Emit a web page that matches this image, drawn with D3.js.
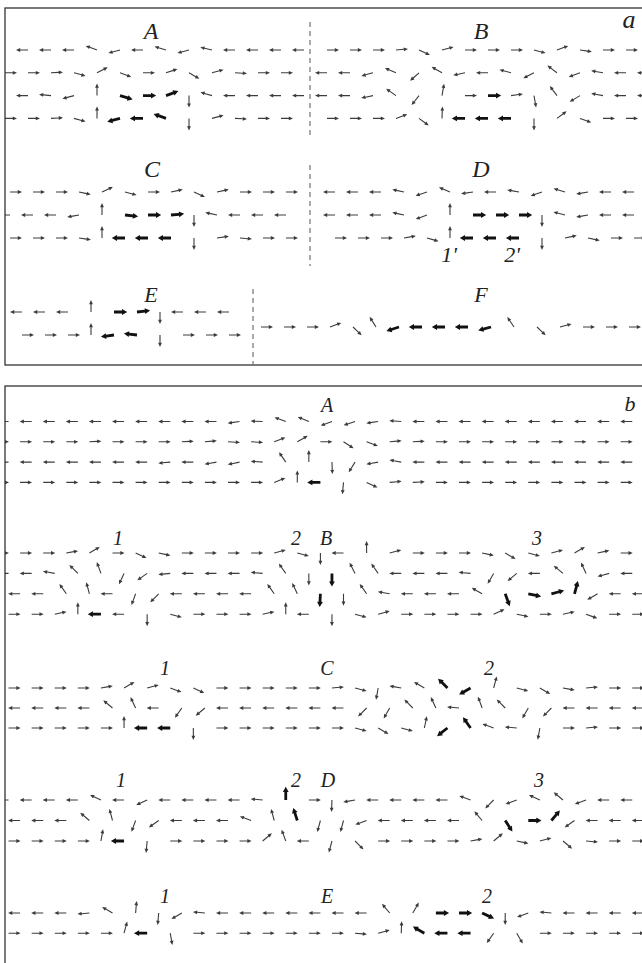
<!DOCTYPE html>
<html>
<head>
<meta charset="utf-8">
<script src="https://cdn.jsdelivr.net/npm/d3@7"></script>
<style>
  html, body { margin: 0; padding: 0; background: #fff; }
  svg { display: block; }
</style>
</head>
<body>
<svg id="chart" width="642" height="963"></svg>
<script>
// Spin rows. Each token is the arrow angle in degrees (0 = right, 90 = up);
// a trailing "b" marks a bold arrow, "." an empty site.

// (a) square lattice
const aRowsA = [
  "180 180 180 180 160 195 180 163 195 167 180 180 180 180",
  "0 0 3 -15 27 -20 0 18 -30 15 -3 0 0 .",
  "180 180 175 195 90 -17b 0b 20b -90 164 180 180 180 180",
  "0 0 3 -15 90 195b 180b 160b -90 15 -3 0 0 ."
];
const aRowsB = [
  "0 0 0 5 -25 15 0 0 0 -15 20 -8 0 0 .",
  "180 180 195 157 222 150 192 180 165 207 143 200 170 180 180",
  "180 180 192 145 232 80 0 0b 8 -80 127 211 170 180 180",
  "0 0 0 20 -36 88 180b 180b 180b -90 37 -20 0 0 ."
];
const aRowsC = [
  "0 0 0 -12 25 -15 0 12 -25 12 0 0 0",
  "180 180 180 190 90 -7b 0b 5b -90 168 180 180 180",
  "0 0 0 -8 90 180b 180b 180b -90 8 -5 0 0"
];
const aRowsD = [
  "180 180 180 168 198 157 188 180 170 199 163 190 180 180",
  "180 180 180 168 200 90 0b 0b 0b -90 165 190 180 180",
  "0 0 0 10 -16 90 180b 180b 180b -90 12 -12 0 0"
];
const aRowsE = [
  "180 180 180 90 0b 6b -90 180 180 180",
  "0 0 0 90 188b 174b -90 0 0 0"
];
const aRowsF = [
  "0 0 0 20 -44 122 198b 180b 180b 180b 195b 124 -44 15 0 0 0"
];

// (b) triangular lattice
const bRowsA = [
  "180 180 180 180 180 180 180 180 180 180 188 178 160 158 200 198 188 176 180 180 180 180 180 180 180 180 180 180",
  "0 0 0 0 3 0 0 0 3 5 -3 -3 21 30 0 -33 -20 5 3 0 0 0 0 0 0 0 0 0 0",
  "180 180 180 180 180 180 180 185 180 190 192 176 124 90 -88 238 190 170 180 180 180 180 180 180 180 180 180 180",
  "0 0 0 0 0 0 0 0 0 0 0 0 22 90 180b -95 -25 5 3 0 0 0 0 0 0 0 0 0 0"
];
const bRowsB = [
  "0 0 0 10 30 0 -25 -12 0 0 0 0 15 -15 -90 180 90 15 0 0 0 -12 -30 -15 15 30 12 0 0",
  "180 180 170 135 110 245 215 185 180 180 180 175 125 -90 -90b 117 125 180 180 180 175 240 220 180 140 115 195 180",
  "180 180 180 125 105 180 250 225 180 180 180 180 125 115 -93b -90 125 170 180 180 180 150 -70b -12b 15b 75b 210 180 180",
  "0 0 12 90 180b 180 -90 -15 0 0 0 12 90 180 -90 -15 15 0 0 0 0 25 -12 0 12 -20 0 0"
];
const bRowsC = [
  "0 0 0 0 10 30 15 -20 -25 0 0 0 0 0 5 -15 -100 170 150 135b 210b 75 -15 -30 -10 5 0 0",
  "180 180 180 180 180 140 115 180 235 220 180 180 180 180 180 180 225 240 135 115 175 110 135 240 225 180 180 180 180",
  "0 0 0 0 0 90 180b 180b -90 0 0 0 0 0 0 -15 -30 -15 78 218b 125b 160 175 -100 0 5 0 0"
];
const bRowsD = [
  "180 180 180 180 155 180 205 180 180 180 180 175 90b 0 -92 190 180 180 180 180 160 225 200 155 140 200 180 180",
  "180 180 180 180 140 105 250 215 180 180 180 160 105 108b 255 255 200 180 180 180 180 130 -57b 0b 50b 215 180 180 180",
  "0 0 0 0 80 180b -95 0 0 0 0 40 110 180 255 -45 0 0 0 0 10 40 -12 15 -40 -5 0 0"
];
const bRowsE = [
  "180 180 180 180 185 150 85 -95 210 175 180 180 180 180 180 180 180 130 60 0b 0b -25b -90 200 175 180 180 180 180",
  "0 0 0 0 0 75 180b -80 0 0 0 0 0 0 0 -5 15 88 150b 180b 180b 235 -60 0 0 0 0 0"
];

// Label texts
const labelsA = ["A", "B", "a", "C", "D", "1'", "2'", "E", "F"];
const labelsB = ["A", "b", "1", "2", "B", "3", "1", "C", "2", "1", "2", "D", "3", "1", "E", "2"];

// ---------------------------------------------------------------------------
// Layout
const W = 642, H = 963;
const svg = d3.select("#chart");

const panels = [
  { id: "pa", x: 5, y: 8, w: 720, h: 357 },
  { id: "pb", x: 5, y: 386, w: 720, h: 700 }
];

const half = 23.1 / 2;
const sections = [
  { panel: 0, rows: aRowsA, x0: 5,   dx: 23,   y0: 50,    dy: 22.8 },
  { panel: 0, rows: aRowsB, x0: 327, dx: 23,   y0: 50,    dy: 22.8 },
  { panel: 0, rows: aRowsC, x0: 10,  dx: 23,   y0: 192,   dy: 23 },
  { panel: 0, rows: aRowsD, x0: 335, dx: 23,   y0: 192,   dy: 23 },
  { panel: 0, rows: aRowsE, x0: 22,  dx: 23,   y0: 312,   dy: 23 },
  { panel: 0, rows: aRowsF, x0: 261, dx: 23,   y0: 327,   dy: 23 },
  { panel: 1, rows: bRowsA, x0: -3,  dx: 23.1, y0: 421.5, dy: 20.3, shift: [half, 0, half, 0] },
  { panel: 1, rows: bRowsB, x0: -3,  dx: 23.1, y0: 553,   dy: 20.4, shift: [0, half, 0, half] },
  { panel: 1, rows: bRowsC, x0: -3,  dx: 23.1, y0: 688,   dy: 20,   shift: [half, 0, half] },
  { panel: 1, rows: bRowsD, x0: -3,  dx: 23.1, y0: 800,   dy: 20.5, shift: [half, 0, half] },
  { panel: 1, rows: bRowsE, x0: -3,  dx: 23.1, y0: 913,   dy: 20.2, shift: [0, half] }
];

const dividers = [
  { x: 310, y1: 22,  y2: 138 },
  { x: 310, y1: 165, y2: 266 },
  { x: 253, y1: 289, y2: 364 }
];

const labelPosA = [
  [151, 39, 24], [481, 39, 24], [629, 28, 26], [152, 177, 24], [481, 177, 24],
  [449, 262, 22], [512, 262, 22], [151, 302, 22], [481, 302, 22]
];
const labelPosB = [
  [327, 412, 20], [630, 411, 22],
  [118, 545, 20], [296, 545, 20], [326, 545, 20], [537, 545, 20],
  [165, 675, 20], [327, 675, 20], [489, 675, 20],
  [121, 787, 20], [296, 787, 20], [328, 787, 20], [539, 787, 20],
  [165, 903, 20], [327, 903, 20], [487, 903, 20]
];

// Arrow outlines in local coordinates: tail at origin, pointing along +x
function arrowPath(L, hl, hw, sw) {
  const p = d3.path();
  p.moveTo(0, -sw);
  p.lineTo(L - hl, -sw);
  p.lineTo(L - hl, -hw);
  p.lineTo(L, 0);
  p.lineTo(L - hl, hw);
  p.lineTo(L - hl, sw);
  p.lineTo(0, sw);
  p.closePath();
  return p.toString();
}
const thinArrow = arrowPath(12, 4.2, 1.9, 0.55);
const boldArrow = arrowPath(13.2, 5.2, 2.9, 1.4);

function parseRow(s) {
  return s.trim().split(/\s+/).map((t, k) => {
    if (t === ".") return null;
    return { k, angle: parseFloat(t), bold: t.endsWith("b") };
  }).filter(Boolean);
}

// Frames and clip regions
const defs = svg.append("defs");
panels.forEach(p => {
  defs.append("clipPath").attr("id", "clip-" + p.id)
    .append("rect").attr("x", p.x).attr("y", p.y).attr("width", p.w).attr("height", p.h);
});

const panelGroups = panels.map(p =>
  svg.append("g").attr("clip-path", `url(#clip-${p.id})`)
);

panels.forEach(p => {
  svg.append("rect")
    .attr("x", p.x).attr("y", p.y).attr("width", p.w).attr("height", p.h)
    .attr("fill", "none").attr("stroke", "#333").attr("stroke-width", 1.3);
});

// Section dividers
svg.append("g").selectAll("line").data(dividers).join("line")
  .attr("x1", d => d.x).attr("x2", d => d.x)
  .attr("y1", d => d.y1).attr("y2", d => d.y2)
  .attr("stroke", "#555").attr("stroke-width", 1)
  .attr("stroke-dasharray", "5,4");

// Spins
sections.forEach(sec => {
  const xs = d3.scaleLinear().domain([0, 1]).range([sec.x0, sec.x0 + sec.dx]);
  const ys = d3.scaleLinear().domain([0, 1]).range([sec.y0, sec.y0 + sec.dy]);
  const spins = sec.rows.flatMap((row, r) =>
    parseRow(row).map(d => ({
      ...d,
      x: xs(d.k) + (sec.shift ? sec.shift[r] : 0),
      y: ys(r)
    }))
  );
  panelGroups[sec.panel].append("g")
    .selectAll("path").data(spins).join("path")
    .attr("d", d => d.bold ? boldArrow : thinArrow)
    .attr("transform", d => `translate(${d.x.toFixed(2)},${d.y.toFixed(2)}) rotate(${-d.angle})`)
    .attr("fill", d => d.bold ? "#111" : "#3c3c3c");
});

// Labels
function drawLabels(texts, pos) {
  svg.append("g").selectAll("text").data(texts.map((t, i) => ({ t, p: pos[i] }))).join("text")
    .attr("x", d => d.p[0]).attr("y", d => d.p[1])
    .attr("text-anchor", "middle")
    .attr("font-family", "'Liberation Serif', 'DejaVu Serif', serif")
    .attr("font-style", "italic")
    .attr("font-size", d => d.p[2])
    .attr("fill", "#222")
    .text(d => d.t);
}
drawLabels(labelsA, labelPosA);
drawLabels(labelsB, labelPosB);
</script>
</body>
</html>
